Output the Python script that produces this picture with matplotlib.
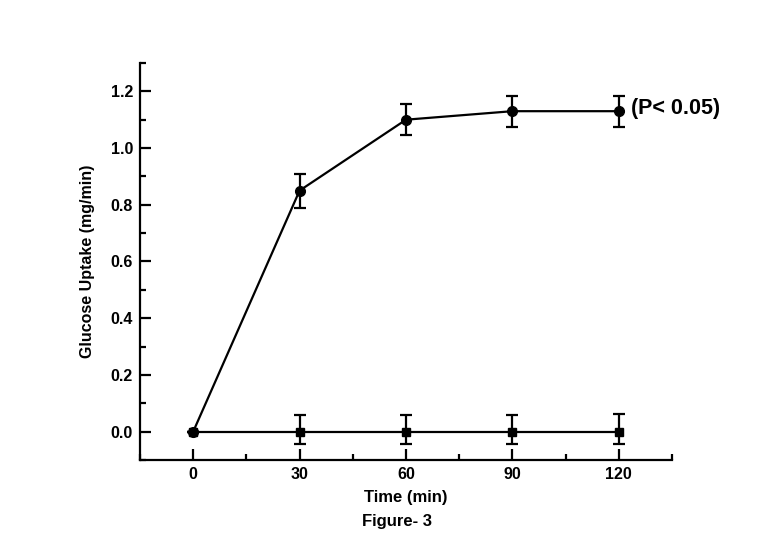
import numpy as np
import matplotlib.pyplot as plt
from matplotlib.ticker import MultipleLocator

plt.rcParams['font.family'] = 'Liberation Sans'
plt.rcParams['font.weight'] = 'bold'

time = [0, 30, 60, 90, 120]
treated = [0.0, 0.85, 1.10, 1.13, 1.13]
treated_err = [0.0, 0.06, 0.055, 0.055, 0.055]
control = [0.0, 0.0, 0.0, 0.0, 0.0]
control_err_lo = [0.0, 0.045, 0.045, 0.045, 0.045]
control_err_hi = [0.0, 0.06, 0.06, 0.06, 0.062]

fig = plt.figure(figsize=(7.8, 5.51), dpi=100)
ax = fig.add_axes([0.1795, 0.1652, 0.682, 0.7205])

ax.errorbar(time, control, yerr=[control_err_lo, control_err_hi], color='black',
            marker='s', markersize=6, linewidth=1.6, elinewidth=1.6,
            capsize=4, capthick=1.6)
ax.errorbar(time, treated, yerr=treated_err, color='black',
            marker='o', markersize=7, linewidth=1.6, elinewidth=1.6,
            capsize=4, capthick=1.6)

ax.set_xlim(-15, 135)
ax.set_ylim(-0.1, 1.3)
ax.set_xticks(time)
ax.xaxis.set_minor_locator(MultipleLocator(15))
ax.yaxis.set_major_locator(MultipleLocator(0.2))
ax.yaxis.set_minor_locator(MultipleLocator(0.1))
ax.yaxis.set_major_formatter(plt.FormatStrFormatter('%.1f'))

ax.spines['top'].set_visible(False)
ax.spines['right'].set_visible(False)
for s in ['left', 'bottom']:
    ax.spines[s].set_linewidth(1.6)
ax.tick_params(which='both', direction='in', width=1.6, labelsize=11.5, pad=5)
ax.tick_params(which='major', length=8)
ax.tick_params(which='minor', length=4)

ax.set_xlabel('Time (min)', fontsize=12, fontweight='bold')
ax.set_ylabel('Glucose Uptake (mg/min)', fontsize=11.5, fontweight='bold')
ax.xaxis.set_label_coords(0.5, -0.075)
ax.yaxis.set_label_coords(-0.085, 0.5)

ax.text(123.4, 1.14, '(P< 0.05)', fontsize=15.5, fontweight='bold', va='center', ha='left')
fig.text(0.509, 0.054, 'Figure- 3', fontsize=12, fontweight='bold', ha='center', va='center')

fig.savefig('out.png', dpi=100)
